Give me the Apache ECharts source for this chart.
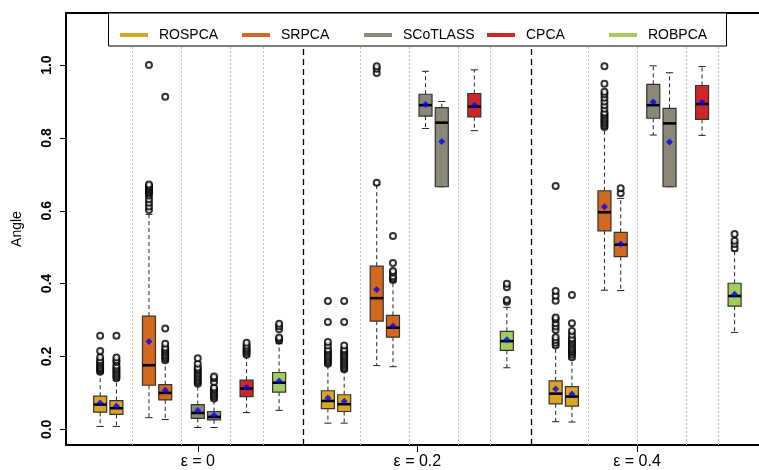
<!DOCTYPE html>
<html>
<head>
<meta charset="utf-8">
<script src="https://cdn.jsdelivr.net/npm/echarts@6/dist/echarts.min.js"></script>
<style>html,body{margin:0;padding:0;background:#fff}#chart{width:759px;height:470px}</style>
</head>
<body>
<div id="chart"></div>
<script>
// ---------- data ----------
const methods = ['ROSPCA', 'SRPCA', 'SCoTLASS', 'CPCA', 'ROBPCA'];
const epsLabels = ['ε = 0', 'ε = 0.2', 'ε = 0.4'];
const yTicks = [0, 0.2, 0.4, 0.6, 0.8, 1.0];

// each box: [lower whisker, Q1, median, Q3, upper whisker]; order: eps0 (a,b), eps0.2 (a,b), eps0.4 (a,b)
const rospcaStats = [
  [0.008, 0.047, 0.068, 0.091, 0.154],
  [0.008, 0.041, 0.058, 0.079, 0.135],
  [0.017, 0.057, 0.078, 0.106, 0.175],
  [0.017, 0.049, 0.069, 0.095, 0.160],
  [0.021, 0.070, 0.098, 0.133, 0.225],
  [0.020, 0.064, 0.090, 0.117, 0.193]
];
const rospcaMeans = [0.072, 0.064, 0.086, 0.077, 0.111, 0.097];
const rospcaOutliers = [
  [0.158, 0.162, 0.166, 0.170, 0.175, 0.180, 0.185, 0.190, 0.198, 0.215, 0.257],
  [0.140, 0.145, 0.150, 0.155, 0.160, 0.165, 0.170, 0.175, 0.185, 0.190, 0.197, 0.257],
  [0.180, 0.185, 0.190, 0.195, 0.200, 0.205, 0.210, 0.215, 0.220, 0.230, 0.240, 0.295, 0.352],
  [0.165, 0.170, 0.175, 0.180, 0.185, 0.190, 0.195, 0.200, 0.205, 0.210, 0.215, 0.220, 0.230, 0.295, 0.352],
  [0.231, 0.238, 0.245, 0.253, 0.273, 0.282, 0.291, 0.302, 0.307, 0.353, 0.367, 0.380, 0.668],
  [0.198, 0.205, 0.210, 0.215, 0.220, 0.225, 0.230, 0.235, 0.240, 0.245, 0.250, 0.260, 0.270, 0.291, 0.369]
];

const srpcaStats = [
  [0.032, 0.121, 0.176, 0.311, 0.590],
  [0.027, 0.081, 0.100, 0.123, 0.185],
  [0.175, 0.297, 0.360, 0.448, 0.672],
  [0.172, 0.253, 0.279, 0.313, 0.405],
  [0.382, 0.545, 0.596, 0.655, 0.826],
  [0.381, 0.474, 0.507, 0.541, 0.634]
];
const srpcaMeans = [0.241, 0.107, 0.384, 0.284, 0.611, 0.509];
const srpcaOutliers = [
  [0.602, 0.612, 0.622, 0.632, 0.642, 0.648, 0.652, 0.656, 0.660, 0.664, 0.668, 0.672, 1.000],
  [0.190, 0.195, 0.200, 0.205, 0.210, 0.215, 0.220, 0.225, 0.235, 0.277, 0.913],
  [0.677, 0.978, 0.990, 0.997],
  [0.410, 0.415, 0.420, 0.430, 0.435, 0.457, 0.531],
  [0.830, 0.835, 0.840, 0.845, 0.850, 0.855, 0.860, 0.865, 0.870, 0.880, 0.890, 0.900, 0.910, 0.920, 0.927, 0.949, 0.997],
  [0.648, 0.662]
];

const scotlassStats = [
  [0.005, 0.030, 0.045, 0.068, 0.122],
  [0.005, 0.026, 0.034, 0.049, 0.080],
  [0.826, 0.860, 0.890, 0.920, 0.983],
  [0.666, 0.666, 0.842, 0.883, 0.900],
  [0.808, 0.854, 0.890, 0.947, 0.998],
  [0.666, 0.666, 0.840, 0.881, 0.979]
];
const scotlassMeans = [0.052, 0.039, 0.892, 0.790, 0.899, 0.789];
const scotlassOutliers = [
  [0.125, 0.130, 0.135, 0.140, 0.145, 0.150, 0.155, 0.160, 0.165, 0.170, 0.180, 0.195],
  [0.085, 0.090, 0.095, 0.100, 0.105, 0.110, 0.115, 0.130, 0.140, 0.145],
  [], [], [], []
];

const cpcaStats = [
  [0.046, 0.090, 0.112, 0.135, 0.200],
  [0.820, 0.858, 0.886, 0.922, 0.987],
  [0.807, 0.851, 0.893, 0.944, 0.996]
];
const cpcaMeans = [0.115, 0.890, 0.898];
const cpcaOutliers = [
  [0.205, 0.210, 0.215, 0.220, 0.225, 0.230, 0.238],
  [], []
];

const robpcaStats = [
  [0.052, 0.102, 0.128, 0.156, 0.235],
  [0.169, 0.217, 0.242, 0.269, 0.335],
  [0.266, 0.338, 0.366, 0.401, 0.490]
];
const robpcaMeans = [0.133, 0.246, 0.371];
const robpcaOutliers = [
  [0.244, 0.248, 0.252, 0.275, 0.283, 0.290],
  [0.350, 0.355, 0.390, 0.400],
  [0.497, 0.509, 0.518, 0.536]
];

// ---------- layout / styling ----------
const colors = {ROSPCA: '#DAA520', SRPCA: '#D2691E', SCoTLASS: '#8B8878', CPCA: '#CD2626', ROBPCA: '#A2CD5A'};
const slotOffsets = {ROSPCA: [1, 2], SRPCA: [4, 5], SCoTLASS: [7, 8], CPCA: [10], ROBPCA: [12]};
const panelWidth = 14;
const panelCenters = [7, 20.5, 34];
const dottedSeps = [3, 6, 9, 11];
const dashedSeps = [13.5, 27.5];

const methodData = {
  ROSPCA: [rospcaStats, rospcaMeans, rospcaOutliers],
  SRPCA: [srpcaStats, srpcaMeans, srpcaOutliers],
  SCoTLASS: [scotlassStats, scotlassMeans, scotlassOutliers],
  CPCA: [cpcaStats, cpcaMeans, cpcaOutliers],
  ROBPCA: [robpcaStats, robpcaMeans, robpcaOutliers]
};

function positions(m) {
  const out = [];
  for (let p = 0; p < 3; p++) slotOffsets[m].forEach(s => out.push(p * panelWidth + s));
  return out;
}

function renderBox(params, api) {
  const x = api.value(0);
  const lo = api.coord([x, api.value(1)]);
  const q1 = api.coord([x, api.value(2)]);
  const md = api.coord([x, api.value(3)]);
  const q3 = api.coord([x, api.value(4)]);
  const hi = api.coord([x, api.value(5)]);
  const hw = api.size([0.8, 0])[0] / 2;
  const cw = api.size([0.44, 0])[0] / 2;
  const cx = md[0];
  const color = api.visual('color');
  const dash = {stroke: '#222', lineWidth: 1, lineDash: [4, 3]};
  const solid = {stroke: '#222', lineWidth: 1};
  return {
    type: 'group',
    children: [
      {type: 'line', shape: {x1: cx, y1: q3[1], x2: cx, y2: hi[1]}, style: dash},
      {type: 'line', shape: {x1: cx, y1: q1[1], x2: cx, y2: lo[1]}, style: dash},
      {type: 'line', shape: {x1: cx - cw, y1: hi[1], x2: cx + cw, y2: hi[1]}, style: solid},
      {type: 'line', shape: {x1: cx - cw, y1: lo[1], x2: cx + cw, y2: lo[1]}, style: solid},
      {type: 'rect', shape: {x: cx - hw, y: q3[1], width: 2 * hw, height: q1[1] - q3[1]},
        style: {fill: color, stroke: '#333', lineWidth: 1.2}},
      {type: 'line', shape: {x1: cx - hw, y1: md[1], x2: cx + hw, y2: md[1]},
        style: {stroke: '#000', lineWidth: 2.6}}
    ]
  };
}

const series = [];
methods.forEach((m, mi) => {
  const [stats, means, outl] = methodData[m];
  const pos = positions(m);
  const boxData = stats.map((s, i) => [pos[i]].concat(s));
  const meanData = means.map((v, i) => [pos[i], v]);
  const outData = [];
  outl.forEach((arr, i) => arr.forEach(v => outData.push([pos[i], v])));
  const boxSeries = {
    name: m,
    type: 'custom',
    renderItem: renderBox,
    itemStyle: {color: colors[m]},
    encode: {x: 0, y: [1, 2, 3, 4, 5]},
    data: boxData,
    z: 3
  };
  if (mi === 0) {
    boxSeries.markLine = {
      silent: true,
      symbol: 'none',
      label: {show: false},
      animation: false,
      data: []
    };
    for (let p = 0; p < 3; p++) {
      dottedSeps.forEach(s => boxSeries.markLine.data.push({
        xAxis: p * panelWidth + s,
        lineStyle: {type: [2, 2], color: '#bdbdbd', width: 1}
      }));
    }
    dashedSeps.forEach(s => boxSeries.markLine.data.push({
      xAxis: s,
      lineStyle: {type: [6, 4], color: '#000', width: 1.3}
    }));
  }
  series.push(boxSeries);
  series.push({
    type: 'scatter', data: outData, symbol: 'emptyCircle', symbolSize: 6,
    itemStyle: {color: '#000', borderColor: '#000', borderWidth: 1}, z: 4, silent: true
  });
  series.push({
    type: 'scatter', data: meanData, symbol: 'diamond', symbolSize: 7,
    itemStyle: {color: '#0000FF'}, z: 5, silent: true
  });
});

const legendLefts = [120, 242, 364, 487, 609];
const legends = methods.map((m, i) => ({
  data: [m],
  left: legendLefts[i],
  top: 28,
  padding: 0,
  itemWidth: 28,
  itemHeight: 4,
  icon: 'rect',
  selectedMode: false,
  z: 50,
  textStyle: {fontSize: 14, color: '#000', fontFamily: 'Liberation Sans, Arial, sans-serif', padding: [0, 0, 0, 6]}
}));

const xMin = -1.1, xMax = 41.5;
const fontFam = 'Liberation Sans, Arial, sans-serif';

const chart = echarts.init(document.getElementById('chart'), null, {renderer: 'canvas'});
chart.setOption({
  animation: false,
  backgroundColor: '#fff',
  grid: {left: 66, right: 0, top: 13, bottom: 25, containLabel: false, outerBoundsMode: 'none'},
  legend: legends,
  graphic: [{
    type: 'rect', z: 40,
    shape: {x: 108.5, y: 13, width: 618, height: 33},
    style: {fill: '#fff', stroke: '#000', lineWidth: 1}
  }],
  xAxis: [{
    type: 'value', min: xMin, max: xMax, position: 'bottom',
    axisLine: {show: true, onZero: false, lineStyle: {color: '#000', width: 2}},
    axisTick: {show: true, customValues: panelCenters, length: 7, lineStyle: {color: '#000', width: 1}},
    axisLabel: {
      show: true, customValues: panelCenters, margin: 9,
      fontSize: 16, color: '#000', fontFamily: fontFam,
      formatter: v => epsLabels[panelCenters.indexOf(v)] || ''
    },
    splitLine: {show: false}
  }, {
    type: 'value', min: xMin, max: xMax, position: 'top',
    axisLine: {show: true, onZero: false, lineStyle: {color: '#000', width: 2}},
    axisTick: {show: false}, axisLabel: {show: false}, splitLine: {show: false}
  }],
  yAxis: {
    type: 'value', min: -0.043, max: 1.143,
    name: 'Angle', nameLocation: 'middle', nameGap: 42, nameRotate: 90,
    nameTextStyle: {fontSize: 14, color: '#000', fontFamily: fontFam},
    axisLine: {show: true, onZero: false, lineStyle: {color: '#000', width: 2}},
    axisTick: {show: true, customValues: yTicks, length: 6, lineStyle: {color: '#000', width: 1}},
    axisLabel: {
      show: true, customValues: yTicks, rotate: 90, margin: 12,
      fontSize: 14, fontWeight: 'bold', color: '#000', fontFamily: fontFam,
      formatter: v => v.toFixed(1)
    },
    splitLine: {show: false}
  },
  series: series
});
</script>
</body>
</html>
